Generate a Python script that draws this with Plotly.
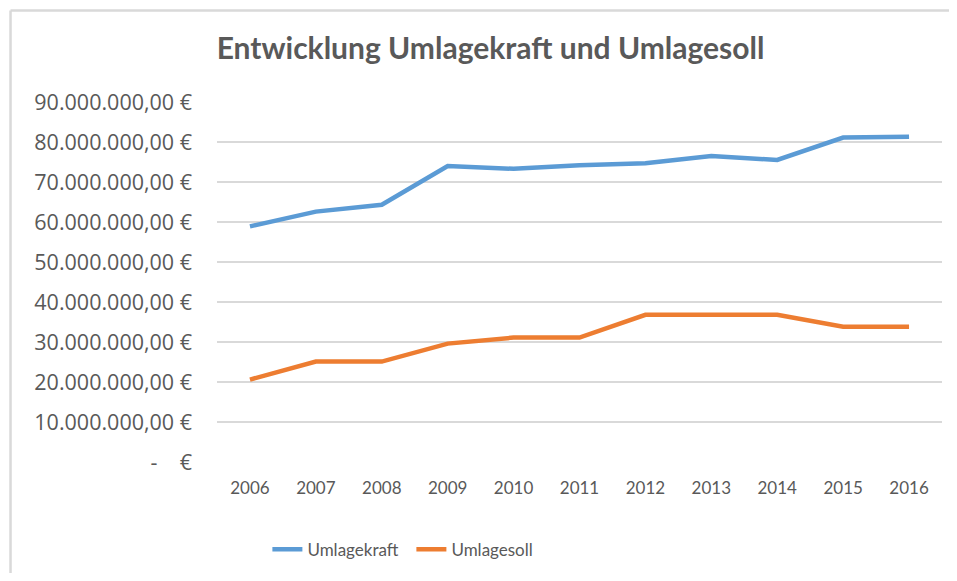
import plotly.graph_objects as go

years = ["2006", "2007", "2008", "2009", "2010", "2011", "2012", "2013", "2014", "2015", "2016"]
umlagekraft = [58.9e6, 62.6e6, 64.3e6, 74.0e6, 73.3e6, 74.2e6, 74.7e6, 76.5e6, 75.5e6, 81.1e6, 81.3e6]
umlagesoll = [20.6e6, 25.1e6, 25.1e6, 29.6e6, 31.1e6, 31.1e6, 36.8e6, 36.8e6, 36.8e6, 33.8e6, 33.8e6]
y_ticks = [0, 10e6, 20e6, 30e6, 40e6, 50e6, 60e6, 70e6, 80e6, 90e6]


def eur(v):
    if v == 0:
        return "-\u00a0\u00a0\u00a0\u00a0€"
    s = f"{v:,.2f}".replace(",", "X").replace(".", ",").replace("X", ".")
    return s + "\u00a0€"


y_text = [eur(v) for v in y_ticks]

GREY = "#595959"
SANS = "Lato"

fig = go.Figure()
fig.add_trace(go.Scatter(x=years, y=umlagekraft, mode="lines", name="Umlagekraft",
                         line=dict(color="#5B9BD5", width=4.5)))
fig.add_trace(go.Scatter(x=years, y=umlagesoll, mode="lines", name="Umlagesoll",
                         line=dict(color="#ED7D31", width=4.5)))

fig.update_layout(
    width=941, height=565,
    margin=dict(l=209, r=7, t=93.5, b=109.7),
    paper_bgcolor="white", plot_bgcolor="white",
    title=dict(text="<b>Entwicklung Umlagekraft und Umlagesoll</b>",
               x=0.5128, xanchor="center", y=0.9292, yanchor="middle",
               font=dict(family=SANS, size=30, color=GREY)),
    xaxis=dict(type="category", range=[-0.5, 10.5], showgrid=False, showline=False,
               ticks="", tickfont=dict(family=SANS, size=17, color=GREY),
               ticklabelstandoff=14, fixedrange=True),
    yaxis=dict(range=[0, 90e6], tickvals=y_ticks, ticktext=y_text,
               showgrid=True, gridcolor="#D9D9D9", gridwidth=1.5, zeroline=False,
               showline=False, ticks="",
               tickfont=dict(family="Open Sans", size=21.5, color=GREY),
               ticklabelstandoff=24, fixedrange=True),
    legend=dict(orientation="h", x=0.0695, xanchor="left", y=-0.24, yanchor="middle",
                font=dict(family=SANS, size=17, color=GREY), entrywidth=99,
                entrywidthmode="pixels", bgcolor="rgba(0,0,0,0)"),
    shapes=[
        dict(type="line", xref="paper", yref="paper", x0=-0.2848, x1=1.0097, y0=1.254, y1=1.254,
             line=dict(color="#D9D9D9", width=2.5)),
        dict(type="line", xref="paper", yref="paper", x0=-0.2848, x1=-0.2848, y0=1.254, y1=-0.31,
             line=dict(color="#D9D9D9", width=2.5)),
    ],
)

fig.write_html("out.html")
